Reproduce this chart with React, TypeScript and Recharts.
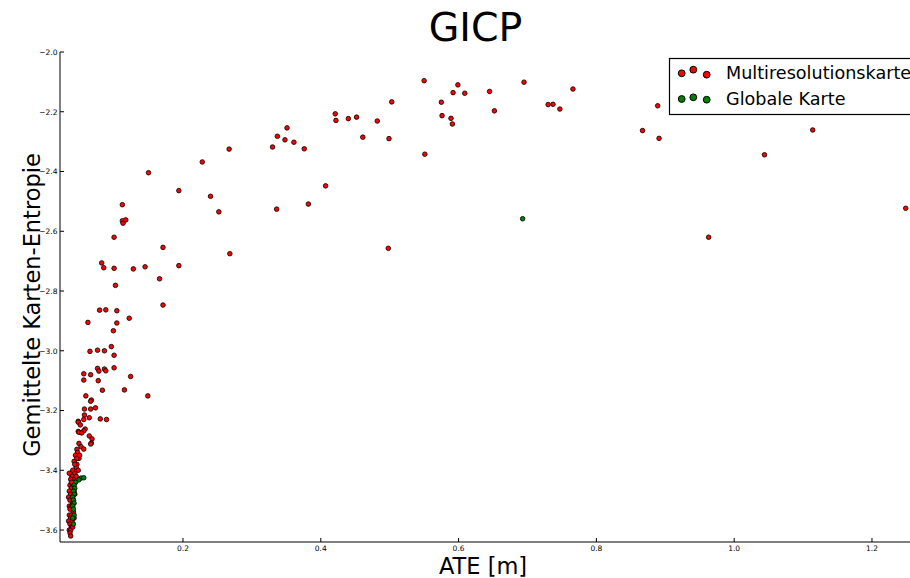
import { ScatterChart, Scatter, XAxis, YAxis } from "recharts";

// ATE [m], mean map entropy
const multiresolutionPoints: [number, number][] = [
  [0.421, -2.207], [0.422, -2.229], [0.44, -2.223], [0.452, -2.218], [0.351, -2.254],
  [0.337, -2.282], [0.348, -2.294], [0.361, -2.302], [0.33, -2.318], [0.376, -2.324],
  [0.267, -2.325], [0.228, -2.368], [0.15, -2.404], [0.194, -2.464], [0.24, -2.483],
  [0.407, -2.448], [0.112, -2.511], [0.252, -2.535], [0.336, -2.526], [0.382, -2.509],
  [0.112, -2.565], [0.117, -2.562], [0.113, -2.573], [0.1, -2.62], [0.171, -2.654],
  [0.268, -2.675], [0.082, -2.706], [0.085, -2.722], [0.1, -2.724], [0.128, -2.726],
  [0.145, -2.719], [0.194, -2.715], [0.166, -2.759], [0.102, -2.781], [0.171, -2.847],
  [0.079, -2.864], [0.088, -2.863], [0.104, -2.866], [0.122, -2.891], [0.062, -2.905],
  [0.104, -2.907], [0.099, -2.933], [0.096, -2.986], [0.065, -3.002], [0.076, -2.998],
  [0.086, -3.0], [0.1, -3.015], [0.076, -3.059], [0.078, -3.068], [0.086, -3.061],
  [0.088, -3.067], [0.1, -3.057], [0.056, -3.077], [0.066, -3.08], [0.056, -3.098],
  [0.077, -3.1], [0.124, -3.086], [0.083, -3.132], [0.115, -3.131], [0.149, -3.151],
  [0.059, -3.151], [0.067, -3.165], [0.066, -3.169], [0.057, -3.195], [0.066, -3.195],
  [0.073, -3.191], [0.057, -3.215], [0.064, -3.224], [0.056, -3.23], [0.08, -3.228],
  [0.089, -3.23], [0.048, -3.236], [0.048, -3.239], [0.051, -3.248], [0.058, -3.262],
  [0.056, -3.268], [0.048, -3.27], [0.049, -3.273], [0.053, -3.275], [0.064, -3.285],
  [0.068, -3.295], [0.067, -3.309], [0.066, -3.312], [0.049, -3.31], [0.052, -3.321],
  [0.056, -3.329], [0.046, -3.33],
  [0.55, -2.096], [0.599, -2.11], [0.592, -2.136], [0.609, -2.138], [0.645, -2.132],
  [0.695, -2.101], [0.766, -2.124], [0.503, -2.167], [0.575, -2.168], [0.73, -2.176],
  [0.737, -2.175], [0.747, -2.191], [0.889, -2.18], [0.652, -2.197], [0.482, -2.231],
  [0.576, -2.213], [0.589, -2.222], [0.591, -2.241], [0.461, -2.285], [0.499, -2.29],
  [0.867, -2.263], [0.891, -2.289], [0.551, -2.342], [0.498, -2.657], [1.114, -2.261],
  [1.044, -2.344], [0.963, -2.62], [1.249, -2.523],
  // dense cluster near the origin
  [0.047, -3.34], [0.044, -3.35], [0.049, -3.36], [0.042, -3.37], [0.046, -3.38],
  [0.045, -3.39], [0.04, -3.4], [0.043, -3.41], [0.048, -3.4], [0.039, -3.42],
  [0.041, -3.43], [0.037, -3.43], [0.044, -3.44], [0.036, -3.45], [0.04, -3.45],
  [0.038, -3.46], [0.035, -3.47], [0.042, -3.47], [0.037, -3.48], [0.034, -3.49],
  [0.039, -3.49], [0.036, -3.5], [0.04, -3.51], [0.035, -3.52], [0.038, -3.52],
  [0.036, -3.53], [0.041, -3.54], [0.035, -3.55], [0.038, -3.55], [0.037, -3.56],
  [0.034, -3.57], [0.039, -3.57], [0.036, -3.58], [0.038, -3.59], [0.035, -3.6],
  [0.037, -3.6], [0.036, -3.61], [0.037, -3.62], [0.045, -3.42], [0.046, -3.36],
  [0.05, -3.35], [0.043, -3.48], [0.041, -3.5], [0.042, -3.56], [0.04, -3.59],
  [0.038, -3.44], [0.035, -3.41], [0.043, -3.38],
];

const globalPoints: [number, number][] = [
  [0.052, -3.426], [0.056, -3.425], [0.049, -3.432], [0.044, -3.44], [0.042, -3.45],
  [0.043, -3.46], [0.041, -3.47], [0.042, -3.48], [0.04, -3.49], [0.041, -3.5],
  [0.042, -3.51], [0.04, -3.52], [0.041, -3.53], [0.042, -3.55], [0.04, -3.56],
  [0.041, -3.58], [0.693, -2.558],
];

const xTicks = [0.2, 0.4, 0.6, 0.8, 1.0, 1.2];
const yTicks = [-3.6, -3.4, -3.2, -3.0, -2.8, -2.6, -2.4, -2.2, -2.0];

const seriesNames = ["Multiresolutionskarte", "Globale Karte"];
const seriesColors = ["#ff0000", "#008000"];

const FONT = "'DejaVu Sans', sans-serif";

const toRows = (pts: [number, number][]) => pts.map(([x, y]) => ({ x, y }));

const Dot = (color: string) => (props: any) => (
  <circle cx={props.cx} cy={props.cy} r={2.3} fill={color} stroke="#000" strokeWidth={0.8} />
);

const fmt = (v: number) => v.toFixed(1).replace("-", "\u2212");

const YTick = (props: any) => {
  const { x, y, payload } = props;
  return (
    <g>
      <line x1={x} x2={x + 4} y1={y} y2={y} stroke="#000" strokeWidth={1} />
      <text x={x - 2.5} y={y + 2.8} textAnchor="end" fontSize={7.5} fontFamily={FONT} fill="#000">
        {fmt(payload.value)}
      </text>
    </g>
  );
};

const XTick = (props: any) => {
  const { x, y, payload } = props;
  return (
    <g>
      <line x1={x} x2={x} y1={y} y2={y - 4} stroke="#000" strokeWidth={1} />
      <text x={x} y={y + 9} textAnchor="middle" fontSize={7.5} fontFamily={FONT} fill="#000">
        {payload.value.toFixed(1)}
      </text>
    </g>
  );
};

const TopTick = (props: any) => {
  const { x, y } = props;
  return <line x1={x} x2={x} y1={y} y2={y + 4} stroke="#000" strokeWidth={1} />;
};

function LegendBox() {
  const rows = [
    { y: 14, offs: [1.3, -2.3, 2.7] },
    { y: 40, offs: [1, -0.7, 1.7] },
  ];
  return (
    <g transform="translate(669, 58)">
      <rect x={0.5} y={0.5} width={250} height={56} fill="#fff" stroke="#000" strokeWidth={1.2} />
      {rows.map((r, i) => (
        <g key={seriesNames[i]}>
          {[12.7, 24.3, 37.7].map((cx, j) => (
            <circle key={j} cx={cx} cy={r.y + r.offs[j]} r={3.4} fill={seriesColors[i]} stroke="#000" strokeWidth={1} />
          ))}
          <text x={57} y={r.y + 6.5} fontSize={17.6} fontFamily={FONT} fill="#000">
            {seriesNames[i]}
          </text>
        </g>
      ))}
    </g>
  );
}

export default function App() {
  return (
    <div style={{ position: "absolute", left: 0, top: 0, width: 910, height: 578, overflow: "hidden", background: "#fff" }}>
      <ScatterChart width={914} height={578} margin={{ top: 52, right: 0, bottom: 0, left: 0 }}>
        <XAxis
          xAxisId="bottom"
          type="number"
          dataKey="x"
          domain={[0.0215, 1.261]}
          ticks={xTicks}
          allowDataOverflow
          height={36}
          tickSize={0}
          tickMargin={0}
          axisLine={{ stroke: "#000", strokeWidth: 1 }}
          tickLine={false}
          tick={(p: any) => <XTick {...p} />}
        />
        <XAxis
          xAxisId="top"
          orientation="top"
          type="number"
          dataKey="x"
          domain={[0.0215, 1.261]}
          ticks={xTicks}
          allowDataOverflow
          height={0}
          tickSize={0}
          tickMargin={0}
          axisLine={{ stroke: "#000", strokeWidth: 1 }}
          tickLine={false}
          tick={(p: any) => <TopTick {...p} />}
        />
        <YAxis
          type="number"
          dataKey="y"
          domain={[-3.64, -2.0]}
          ticks={yTicks}
          allowDataOverflow
          width={60}
          tickSize={0}
          tickMargin={0}
          axisLine={{ stroke: "#000", strokeWidth: 1 }}
          tickLine={false}
          tick={(p: any) => <YTick {...p} />}
        />
        <Scatter
          name={seriesNames[0]}
          xAxisId="bottom"
          data={toRows(multiresolutionPoints)}
          fill={seriesColors[0]}
          shape={Dot(seriesColors[0])}
          isAnimationActive={false}
        />
        <Scatter
          name={seriesNames[1]}
          xAxisId="bottom"
          data={toRows(globalPoints)}
          fill={seriesColors[1]}
          shape={Dot(seriesColors[1])}
          isAnimationActive={false}
        />
      </ScatterChart>
      <svg width={910} height={578} style={{ position: "absolute", left: 0, top: 0, pointerEvents: "none" }}>
        <LegendBox />
        <text x={475.5} y={40.5} textAnchor="middle" fontSize={39.5} fontFamily={FONT} fill="#000">
          GICP
        </text>
        <text x={483} y={574} textAnchor="middle" fontSize={22.5} fontFamily={FONT} fill="#000">
          ATE [m]
        </text>
        <text
          x={40}
          y={305}
          textAnchor="middle"
          fontSize={22.5}
          fontFamily={FONT}
          fill="#000"
          transform="rotate(-90, 40, 305)"
        >
          Gemittelte Karten-Entropie
        </text>
      </svg>
    </div>
  );
}
